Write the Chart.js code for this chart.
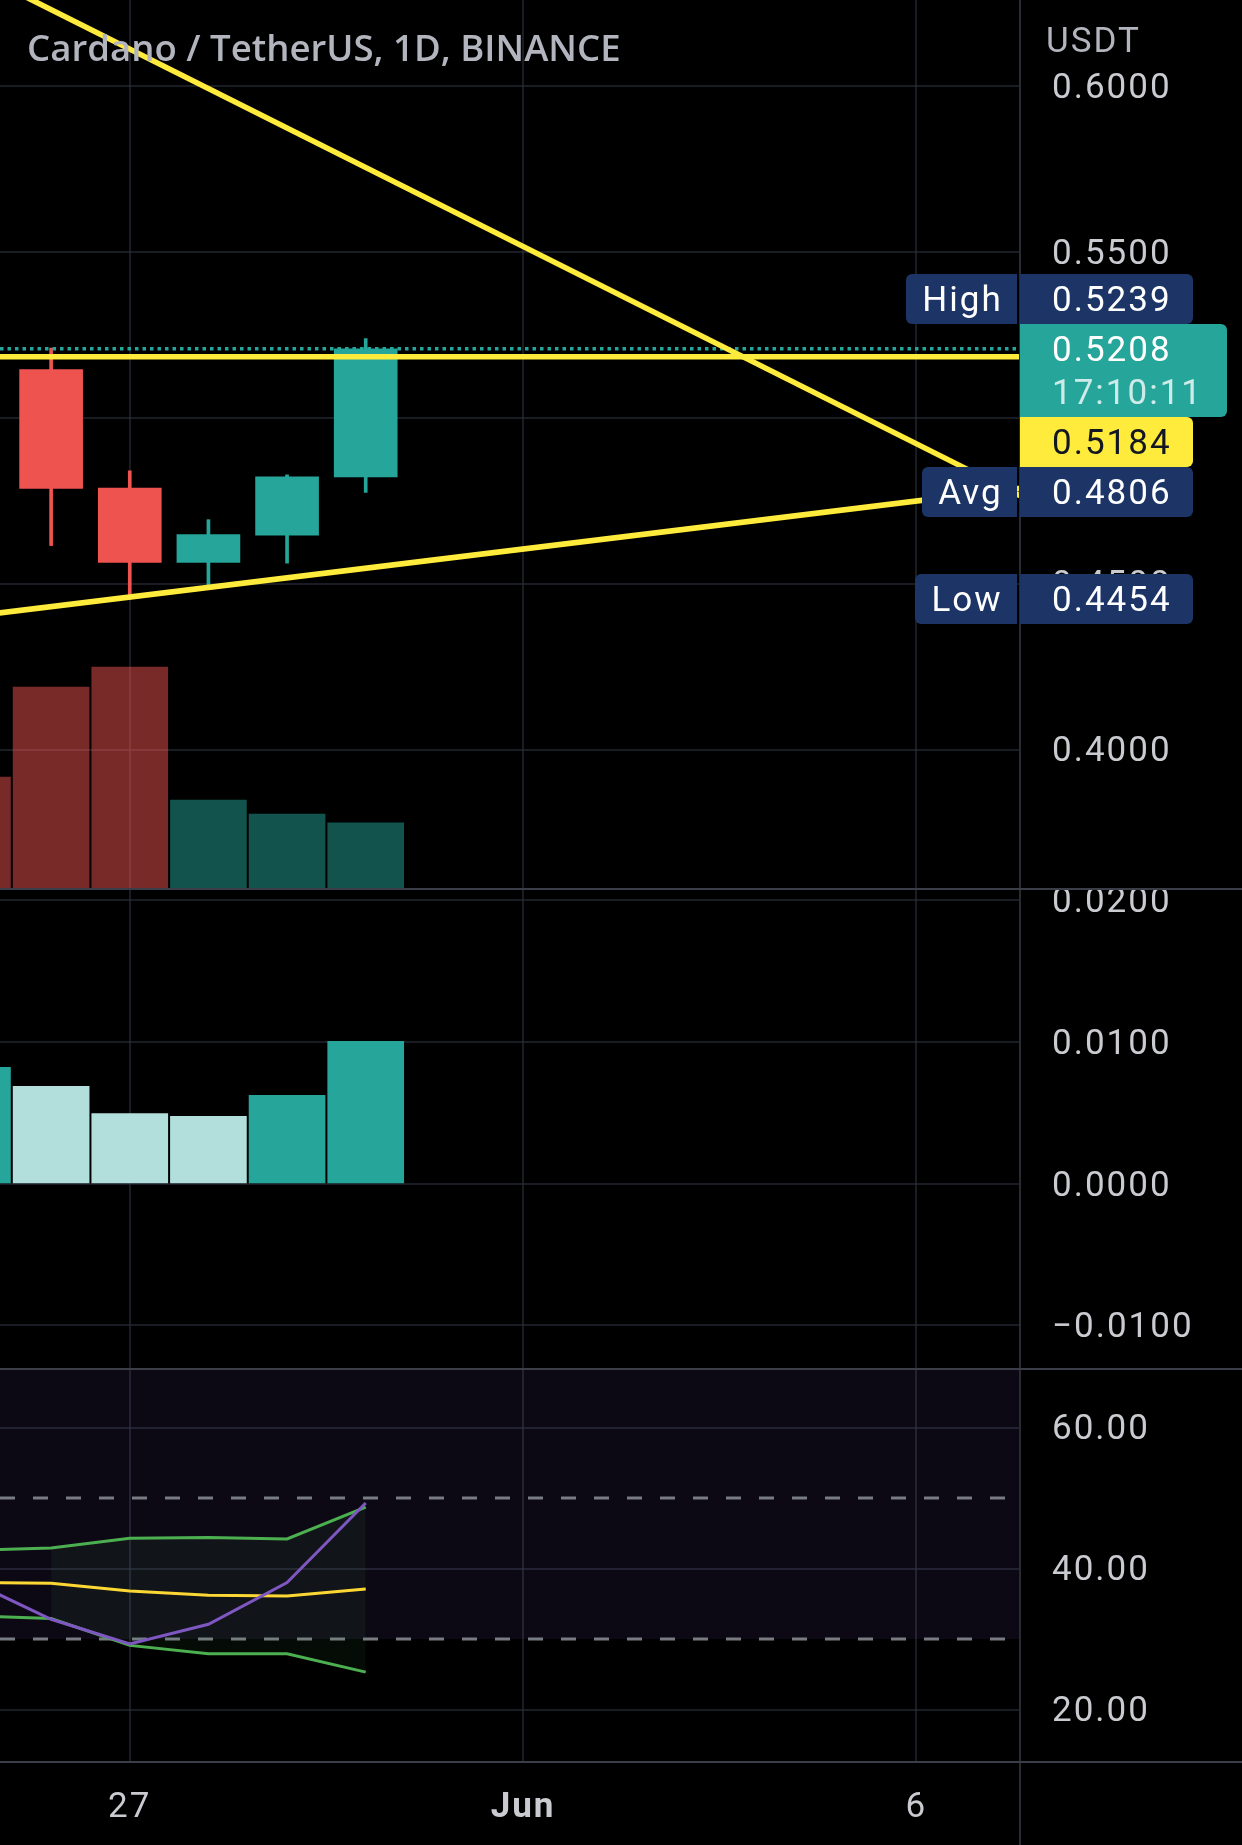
<!DOCTYPE html>
<html lang="en">
<head>
<meta charset="utf-8">
<title>ADA/USDT 1D</title>
<script src="https://cdn.jsdelivr.net/npm/chart.js@4.4.1/dist/chart.umd.min.js"></script>
<style>
  html, body { margin: 0; padding: 0; background: #000; }
  body { position: relative; width: 1242px; height: 1845px; overflow: hidden; }
  .pane { position: absolute; left: 0; width: 1242px; }
  #price-pane { top: 0; height: 888px; }
  #macd-pane { top: 888px; height: 480px; }
  #rsi-pane { top: 1368px; height: 477px; }
  #title { position: absolute; left: 27px; top: 22px; color: #b2b5be; font: 600 36.6px 'Open Sans', sans-serif; white-space: nowrap; }
  #currency { position: absolute; left: 1046px; top: 20px; color: #b2b5be; font: 35px Roboto, sans-serif; letter-spacing: 2px; }
</style>
</head>
<body>
<div class="pane" id="price-pane"><canvas id="priceChart"></canvas></div>
<div class="pane" id="macd-pane"><canvas id="macdChart"></canvas></div>
<div class="pane" id="rsi-pane"><canvas id="rsiChart"></canvas></div>
<div id="title">Cardano / TetherUS, 1D, BINANCE</div>
<div id="currency">USDT</div>
<script>
// days are counted from May: 32 = 1 Jun
const timeTicks = [27, 32, 37];
const timeTickLabels = ['27', 'Jun', '6'];

const candleDays = [26, 27, 28, 29, 30];
const opens  = [0.5145, 0.4788, 0.4564, 0.4646, 0.4822];
const highs  = [0.5210, 0.4840, 0.4693, 0.4828, 0.5239];
const lows   = [0.4615, 0.4454, 0.4484, 0.4562, 0.4775];
const closes = [0.4787, 0.4564, 0.4648, 0.4822, 0.5208];

const barDays   = [25, 26, 27, 28, 29, 30];
const volumes   = [552, 1000, 1100, 438, 368, 324]; // million ADA, estimated
const volumeUp  = [false, false, false, true, true, true];
const histogram = [0.00822, 0.00688, 0.00496, 0.00476, 0.00625, 0.01006];

const rsiDays = [25, 26, 27, 28, 29, 30];
const rsi     = [38.1, 32.8, 29.3, 32.1, 38.0, 49.3];
const rsiMa   = [38.0, 37.9, 36.8, 36.2, 36.1, 37.1];
const bbUpper = [42.6, 42.9, 44.3, 44.4, 44.2, 48.7];
const bbLower = [33.3, 32.9, 29.1, 27.9, 27.9, 25.3];
const bbFillFrom = 1; // band fill starts on 26 May
const rsiLevels = [70, 50, 30];

const priceTicks = [0.40, 0.45, 0.50, 0.55, 0.60];
const macdTicks  = [-0.01, 0, 0.01, 0.02];
const rsiTicks   = [20, 40, 60];

const lastPrice  = 0.5208;
const countdown  = '17:10:11';
const alertPrice = 0.5184;
const statNames  = ['High', 'Avg', 'Low'];
const statValues = [0.5239, 0.4806, 0.4454];

// hand-drawn trend lines, end points as [day, price]
const fallingDays   = [25, 39];
const fallingPrices = [0.6349, 0.4684];
const risingDays    = [25, 39];
const risingPrices  = [0.4402, 0.4807];

// visible window
const X_MIN = 25.35, X_MAX = 38.319;

const UP = '#26a69a', DOWN = '#ef5350', YELLOW = '#ffeb3b', NAVY = '#1c3566';
const TEXT = '#c9cbd0';
const GRID = 'rgba(42, 46, 57, 0.6)';
const AXIS_FONT = {family: 'Roboto', size: 35};

const pts = (xs, ys) => xs.map((x, i) => ({x, y: ys[i]}));
const flat = v => [{x: X_MIN, y: v}, {x: X_MAX, y: v}];

function fixAxis(width, height) {
    return scale => {
        if (width !== undefined) scale.width = width;
        if (height !== undefined) scale.height = height;
        scale.paddingTop = scale.paddingBottom = scale.paddingLeft = scale.paddingRight = 0;
    };
}
const useTicks = values => scale => { scale.ticks = values.map(v => ({value: v})); };

function xScale(showLabels) {
    return {
        type: 'linear', min: X_MIN, max: X_MAX, offset: false,
        afterBuildTicks: useTicks(timeTicks),
        afterFit: fixAxis(undefined, showLabels ? 84 : 0),
        grid: {color: GRID, lineWidth: 2, drawTicks: false, offset: false},
        border: {display: false},
        ticks: {
            display: showLabels, color: TEXT, padding: 26, maxRotation: 0, autoSkip: false,
            font: ctx => ({family: 'Roboto', size: 35, weight: ctx.tick && ctx.tick.value === 32 ? 'bold' : 'normal'}),
            callback: (v, i) => timeTickLabels[i]
        }
    };
}

function yScale(min, max, ticks, fmt) {
    return {
        position: 'right', min, max,
        afterBuildTicks: useTicks(ticks),
        afterFit: fixAxis(222),
        grid: {color: GRID, lineWidth: 2, drawTicks: false},
        border: {display: false},
        ticks: {color: TEXT, font: AXIS_FONT, padding: 32, labelOffset: 3, autoSkip: false, callback: fmt}
    };
}

// wider glyph spacing, like the app's scale font
const spacing = {
    id: 'spacing',
    beforeDraw(chart) { chart.ctx.letterSpacing = '2px'; }
};

// pane separators and the price-axis divider
const paneLines = {
    id: 'paneLines',
    afterDraw(chart, args, opts) {
        const {ctx, chartArea, width, height} = chart;
        ctx.save();
        ctx.fillStyle = '#2a2b30';
        ctx.fillRect(chartArea.right - 1, 0, 2, height);
        ctx.fillStyle = '#3b3e48';
        if (opts.top) ctx.fillRect(0, 0, width, 2);
        if (opts.bottom) ctx.fillRect(0, chartArea.bottom, width, 2);
        ctx.restore();
    }
};

// High / last / alert / Avg / Low tags on the price scale
const priceTags = {
    id: 'priceTags',
    afterDraw(chart) {
        const {ctx} = chart;
        const y = chart.scales.y;
        const left = chart.chartArea.right;
        const textX = left + 32;
        const boxH = 50, lastH = 93;
        ctx.save();
        ctx.font = '35px Roboto';
        ctx.letterSpacing = '2px';
        ctx.textBaseline = 'middle';

        const lastTop = Math.round(y.getPixelForValue(lastPrice) - boxH / 2);
        const items = statNames.map((n, i) => ({name: n, value: statValues[i], fill: NAVY, color: '#ffffff'}));
        items.push({name: null, value: alertPrice, fill: YELLOW, color: '#131722'});
        items.forEach(it => { it.top = Math.round(y.getPixelForValue(it.value) - boxH / 2); });

        let limit = lastTop;
        items.filter(it => it.value > lastPrice).sort((a, b) => b.top - a.top).forEach(it => {
            it.top = Math.min(it.top, limit - boxH); limit = it.top;
        });
        limit = lastTop + lastH;
        items.filter(it => it.value <= lastPrice).sort((a, b) => a.top - b.top).forEach(it => {
            it.top = Math.max(it.top, limit); limit = it.top + boxH;
        });

        ctx.fillStyle = UP;
        ctx.beginPath(); ctx.roundRect(left, lastTop, 207, lastH, [0, 6, 6, 0]); ctx.fill();
        ctx.fillStyle = '#ffffff';
        ctx.fillText(lastPrice.toFixed(4), textX, lastTop + 28);
        ctx.fillStyle = 'rgba(255,255,255,0.78)';
        ctx.fillText(countdown, textX, lastTop + 71);

        items.forEach(it => {
            ctx.fillStyle = it.fill;
            ctx.beginPath(); ctx.roundRect(left, it.top, 173, boxH, [0, 6, 6, 0]); ctx.fill();
            if (it.name) {
                const w = Math.round(ctx.measureText(it.name).width + 31);
                ctx.beginPath(); ctx.roundRect(left - 3 - w, it.top, w, boxH, [6, 0, 0, 6]); ctx.fill();
                ctx.fillStyle = it.color;
                ctx.textAlign = 'center';
                ctx.fillText(it.name, left - 2 - w / 2, it.top + boxH / 2 + 3);
                ctx.textAlign = 'left';
            }
            ctx.fillStyle = it.color;
            ctx.fillText(it.value.toFixed(4), textX, it.top + boxH / 2 + 3);
        });
        ctx.restore();
    }
};

const common = {
    responsive: true,
    maintainAspectRatio: false,
    animation: false,
    events: [],
    layout: {padding: 0}
};

const candleColor = i => closes[i] >= opens[i] ? UP : DOWN;

new Chart(document.getElementById('priceChart'), {
    type: 'bar',
    data: {
        datasets: [
            {type: 'line', data: pts(fallingDays, fallingPrices), borderColor: YELLOW, borderWidth: 5.5, pointRadius: 0, clip: 0, order: 1},
            {type: 'line', data: pts(risingDays, risingPrices), borderColor: YELLOW, borderWidth: 5.5, pointRadius: 0, clip: 0, order: 1},
            {type: 'line', data: flat(alertPrice), borderColor: YELLOW, borderWidth: 5.5, pointRadius: 0, clip: 0, order: 1},
            {type: 'line', data: flat(lastPrice), borderColor: UP, borderWidth: 3.5, borderDash: [3.5, 4], pointRadius: 0, clip: 0, order: 2},
            {data: candleDays.map((d, i) => ({x: d, y: [opens[i], closes[i]]})), backgroundColor: c => candleColor(c.dataIndex),
             barThickness: 63, grouped: false, order: 3},
            {data: candleDays.map((d, i) => ({x: d, y: [lows[i], highs[i]]})), backgroundColor: c => candleColor(c.dataIndex),
             barThickness: 3, grouped: false, order: 4},
            {data: pts(barDays, volumes), yAxisID: 'yv', barThickness: 76, grouped: false, order: 5,
             backgroundColor: c => volumeUp[c.dataIndex] ? 'rgba(38,166,154,0.5)' : 'rgba(239,83,80,0.5)'}
        ]
    },
    options: {
        ...common,
        plugins: {legend: {display: false}, tooltip: {enabled: false}, paneLines: {}},
        scales: {
            x: xScale(false),
            y: yScale(0.35829, 0.62592, priceTicks, v => v.toFixed(4)),
            yv: {display: false, min: 0, max: 4420}
        }
    },
    plugins: [spacing, paneLines, priceTags]
});

const histColor = i => {
    const v = histogram[i], prev = i > 0 ? histogram[i - 1] : -Infinity;
    if (v >= 0) return v >= prev ? '#26a69a' : '#b2dfdb';
    return v <= prev ? '#ff5252' : '#ffcdd2';
};

new Chart(document.getElementById('macdChart'), {
    type: 'bar',
    data: {
        datasets: [
            {data: pts(barDays, histogram), backgroundColor: c => histColor(c.dataIndex), barThickness: 76, grouped: false}
        ]
    },
    options: {
        ...common,
        plugins: {legend: {display: false}, tooltip: {enabled: false}, paneLines: {top: true}},
        scales: {
            x: xScale(false),
            y: yScale(-0.0130, 0.020882, macdTicks, v => (v < 0 ? '\u2212' : '') + Math.abs(v).toFixed(4))
        }
    },
    plugins: [spacing, paneLines]
});

const bbFillDays = rsiDays.slice(bbFillFrom);
new Chart(document.getElementById('rsiChart'), {
    type: 'line',
    data: {
        datasets: [
            {data: pts(rsiDays, rsi), borderColor: '#7e57c2', borderWidth: 3, pointRadius: 0, order: 1},
            {data: pts(rsiDays, rsiMa), borderColor: '#fdd835', borderWidth: 3, pointRadius: 0, order: 2},
            {data: pts(rsiDays, bbUpper), borderColor: '#4caf50', borderWidth: 3, pointRadius: 0, order: 3},
            {data: pts(rsiDays, bbLower), borderColor: '#4caf50', borderWidth: 3, pointRadius: 0, order: 3},
            {data: pts(bbFillDays, bbUpper.slice(bbFillFrom)), borderWidth: 0, pointRadius: 0, order: 5,
             fill: '+1', backgroundColor: 'rgba(76,175,80,0.07)'},
            {data: pts(bbFillDays, bbLower.slice(bbFillFrom)), borderWidth: 0, pointRadius: 0, order: 6},
            ...rsiLevels.map(v => ({data: flat(v), borderColor: 'rgba(149,152,161,0.8)', borderWidth: 3,
                borderDash: [15, 18], pointRadius: 0, clip: 0, order: 7})),
            {data: flat(rsiLevels[0]), borderWidth: 0, pointRadius: 0, order: 9,
             fill: {value: rsiLevels[rsiLevels.length - 1]}, backgroundColor: 'rgba(126,87,194,0.1)'}
        ]
    },
    options: {
        ...common,
        plugins: {legend: {display: false}, tooltip: {enabled: false}, paneLines: {top: true, bottom: true}},
        scales: {
            x: xScale(true),
            y: yScale(12.70, 68.44, rsiTicks, v => v.toFixed(2))
        }
    },
    plugins: [spacing, paneLines]
});
</script>
</body>
</html>
